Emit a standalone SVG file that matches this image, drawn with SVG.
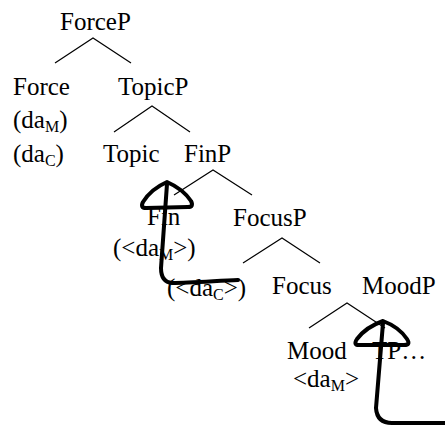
<svg xmlns="http://www.w3.org/2000/svg" width="445" height="426" viewBox="0 0 445 426">
  <style>
    .lbl { font-size: 25px; fill: #000; }
    .sub { font-size: 16px; }
    .branch { fill: none; stroke: #000; stroke-width: 1.2; }
    .move { fill: none; stroke: #000; stroke-width: 4; stroke-linejoin: round; stroke-linecap: round; }
  </style>
  <rect width="445" height="426" fill="#fff"/>

  <!-- tree branches -->
  <g id="branches">
    <polyline class="branch" points="55,63 93,38 131,63"/>
    <polyline class="branch" points="114,132 152,106 190,132"/>
    <polyline class="branch" points="174,195 213,170 252,195"/>
    <polyline class="branch" points="243,263 282,238 320,263"/>
    <polyline class="branch" points="309,328 347,303 385,328"/>
  </g>

  <!-- labels -->
  <g class="lbl" font-family="'Liberation Serif', 'DejaVu Serif', serif">
    <g id="forceP"><text x="60" y="30">ForceP</text></g>
    <g id="force">
      <text x="13" y="95">Force</text>
      <text x="13" y="128">(da<tspan class="sub" dy="4">M</tspan><tspan dy="-4">)</tspan></text>
      <text x="13" y="162">(da<tspan class="sub" dy="4">C</tspan><tspan dy="-4">)</tspan></text>
    </g>
    <g id="topicP"><text x="118" y="95">TopicP</text></g>
    <g id="topic"><text x="103" y="162">Topic</text></g>
    <g id="finP"><text x="184" y="162">FinP</text></g>
    <g id="fin">
      <text x="147" y="225">Fin</text>
      <text x="113" y="256">(&lt;da<tspan class="sub" dy="4">M</tspan><tspan dy="-4">&gt;)</tspan></text>
      <text x="167" y="296">(&lt;da<tspan class="sub" dy="4">C</tspan><tspan dy="-4">&gt;)</tspan></text>
    </g>
    <g id="focusP"><text x="233" y="226">FocusP</text></g>
    <g id="focus"><text x="272" y="294">Focus</text></g>
    <g id="moodP"><text x="362" y="294">MoodP</text></g>
    <g id="mood">
      <text x="287" y="359">Mood</text>
      <text x="293" y="387">&lt;da<tspan class="sub" dy="4">M</tspan><tspan dy="-4">&gt;</tspan></text>
    </g>
    <g id="tp"><text x="372" y="359">TP…</text></g>
  </g>

  <!-- movement arrows, drawn by hand -->
  <g id="connectors">
    <path class="move" d="M238 280 C215 281 190 283 172 283 Q161 282 161 268 L167 184"/>
    <path class="move" d="M167 182 Q151 189 143 202 Q140 208 146 208 L188 207 Q194 207 191 201 Q183 189 167 182 Z"/>
    <path class="move" d="M445 423 L392 423 Q377 423 376 408 L383 323"/>
    <path class="move" d="M383 321 Q366 327 357 339 Q353 345 359 345 L404 345 Q411 345 407 339 Q399 327 383 321 Z"/>
  </g>
</svg>
